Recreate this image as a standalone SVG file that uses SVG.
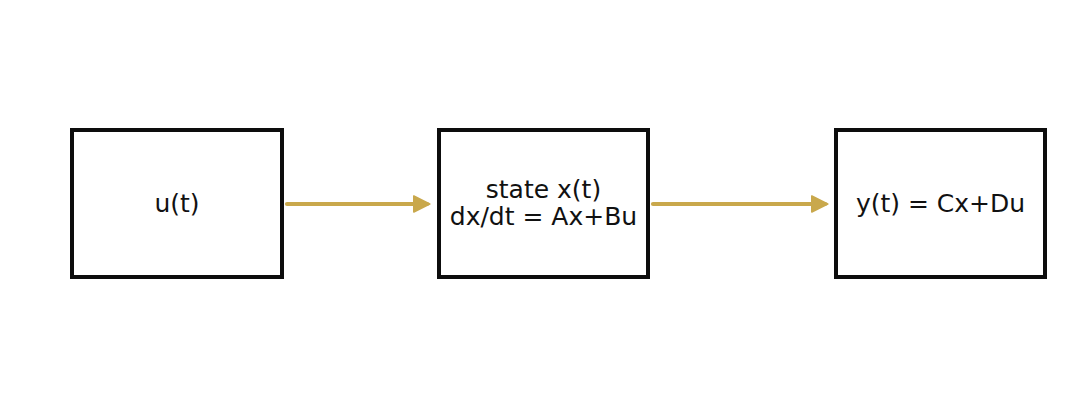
<svg xmlns="http://www.w3.org/2000/svg" width="1086" height="409" viewBox="0 0 1086 409">
<style>
.box{fill:#fff;stroke:#0d0d0d;stroke-width:4}
.lbl{font-family:"DejaVu Sans","Noto Sans",sans-serif;font-size:25px;fill:#111;text-anchor:middle}
.edge{stroke:#C9A84C;stroke-width:4.2;stroke-linecap:round;fill:none}
</style>
<defs>
<marker id="ah" viewBox="0 0 10 10" refX="8" refY="5" markerWidth="4.2" markerHeight="4.2" markerUnits="strokeWidth" orient="auto">
<path d="M0.5,0.5 L9.5,5 L0.5,9.5 z" fill="#C9A84C" stroke="#C9A84C" stroke-width="1" stroke-linejoin="round"/>
</marker>
</defs>
<rect width="1086" height="409" fill="#fff"/>
<g id="connectors">
<line class="edge" x1="287" y1="204" x2="427" y2="204" marker-end="url(#ah)"/>
<line class="edge" x1="653" y1="204" x2="825" y2="204" marker-end="url(#ah)"/>
</g>
<g id="input">
<rect class="box" x="72" y="130" width="210" height="147"/>
<text class="lbl" x="177" y="212">u(t)</text>
</g>
<g id="state">
<rect class="box" x="439" y="130" width="209" height="147"/>
<text class="lbl" x="543.5" y="198">state x(t)</text>
<text class="lbl" x="543.5" y="225">dx/dt = Ax+Bu</text>
</g>
<g id="output">
<rect class="box" x="836" y="130" width="209" height="147"/>
<text class="lbl" x="940.5" y="212">y(t) = Cx+Du</text>
</g>
</svg>
